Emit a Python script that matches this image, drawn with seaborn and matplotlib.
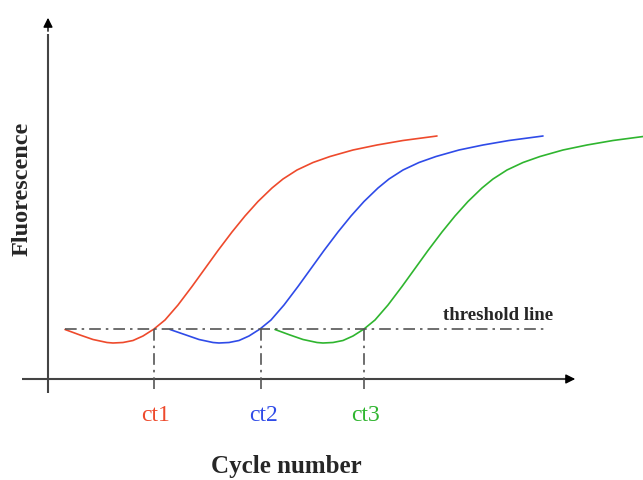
import matplotlib
matplotlib.use("Agg")
import matplotlib.pyplot as plt
import pandas as pd
import seaborn as sns

# Amplification curves: cycle number vs. fluorescence (threshold = 1.0)
red_cycle = [1.7, 3.2, 4.5, 5.9, 6.5, 7.5, 8.5, 9.5, 10.6, 11.7, 13.0, 14.4, 15.7,
             17.0, 18.4, 19.7, 21.0, 22.4, 23.5, 24.9, 26.5, 28.2, 30.5, 32.9, 35.5, 38.9]
red_fluor = [0.99, 0.88, 0.79, 0.73, 0.72, 0.73, 0.77, 0.86, 1.00, 1.18, 1.48, 1.85, 2.21,
             2.57, 2.94, 3.26, 3.55, 3.82, 4.00, 4.18, 4.33, 4.45, 4.58, 4.68, 4.77, 4.86]

blue_cycle = [12.2, 13.8, 15.1, 16.5, 17.1, 18.1, 19.1, 20.1, 21.2, 22.3, 23.6, 25.0, 26.3,
              27.6, 29.0, 30.3, 31.6, 33.0, 34.1, 35.5, 37.1, 38.8, 41.1, 43.5, 46.1, 49.5]
blue_fluor = [0.99, 0.88, 0.79, 0.73, 0.72, 0.73, 0.77, 0.86, 1.00, 1.18, 1.48, 1.85, 2.21,
              2.57, 2.94, 3.26, 3.55, 3.82, 4.00, 4.18, 4.33, 4.45, 4.58, 4.68, 4.77, 4.86]

green_cycle = [22.7, 24.2, 25.5, 26.9, 27.5, 28.5, 29.5, 30.5, 31.6, 32.7, 34.0, 35.4, 36.7,
               38.0, 39.4, 40.7, 42.0, 43.4, 44.5, 45.9, 47.5, 49.2, 51.5, 53.9, 56.5, 59.9]
green_fluor = [0.99, 0.88, 0.79, 0.73, 0.72, 0.73, 0.77, 0.86, 1.00, 1.18, 1.48, 1.85, 2.21,
               2.57, 2.94, 3.26, 3.55, 3.82, 4.00, 4.18, 4.33, 4.45, 4.58, 4.68, 4.77, 4.86]

sample_names = ["sample 1", "sample 2", "sample 3"]
ct_values = [10.6, 21.3, 31.6]
ct_labels = ["ct1", "ct2", "ct3"]
threshold = 1.0
threshold_span = [1.7, 49.9]
colors = ["#ee4a2c", "#2f4be8", "#2fb52f"]

sns.set_style("white")
plt.rcParams["font.family"] = ["Liberation Serif", "DejaVu Serif"]

frames = []
for name, xs, ys in zip(sample_names,
                        [red_cycle, blue_cycle, green_cycle],
                        [red_fluor, blue_fluor, green_fluor]):
    frames.append(pd.DataFrame({"cycle": xs, "fluorescence": ys, "sample": name}))
df = pd.concat(frames, ignore_index=True)

fig = plt.figure(figsize=(6.43, 4.80), dpi=100)
ax = fig.add_axes([0, 0, 1, 1])
ax.set_xlim(-4.8, 59.5)
ax.set_ylim(-2.02, 7.58)
ax.axis("off")

sns.lineplot(data=df, x="cycle", y="fluorescence", hue="sample",
             palette=dict(zip(sample_names, colors)), sort=False, estimator=None,
             lw=1.2, legend=False, ax=ax)
for line in ax.get_lines():
    line.set_solid_joinstyle("round")

# hand-drawn style axes with arrow heads
axis_color = "#444444"
ax.plot([-2.6, 52.0], [0, 0], color=axis_color, lw=1.5, solid_capstyle="butt")
ax.plot([0, 0], [-0.28, 6.9], color=axis_color, lw=1.5, solid_capstyle="butt")
ax.annotate("", xy=(53.0, 0), xytext=(51.5, 0),
            arrowprops=dict(arrowstyle="-|>", color="black", lw=1.0, mutation_scale=14))
ax.annotate("", xy=(0, 7.28), xytext=(0, 6.9),
            arrowprops=dict(arrowstyle="-|>", color="black", lw=1.0, mutation_scale=14))

dashdot = (0, (7, 3, 1.5, 3))
line_gray = "#555555"
ax.plot(threshold_span, [threshold, threshold], color=line_gray, lw=1.2, linestyle=dashdot)
for ct, lab, col in zip(ct_values, ct_labels, colors):
    ax.plot([ct, ct], [threshold, -0.28], color=line_gray, lw=1.2, linestyle=dashdot)
    ax.text(ct + 0.2, -0.73, lab, color=col, fontsize=17, ha="center", va="center")

ax.text(45.0, 1.28, "threshold line", fontsize=13.5, fontweight="bold",
        ha="center", va="center")
ax.text(23.8, -1.76, "Cycle number", fontsize=18, fontweight="bold",
        ha="center", va="center")
ax.text(-2.6, 3.8, "Fluorescence", fontsize=17.5, fontweight="bold",
        ha="center", va="center", rotation=90)

fig.savefig("out.png", dpi=100)
